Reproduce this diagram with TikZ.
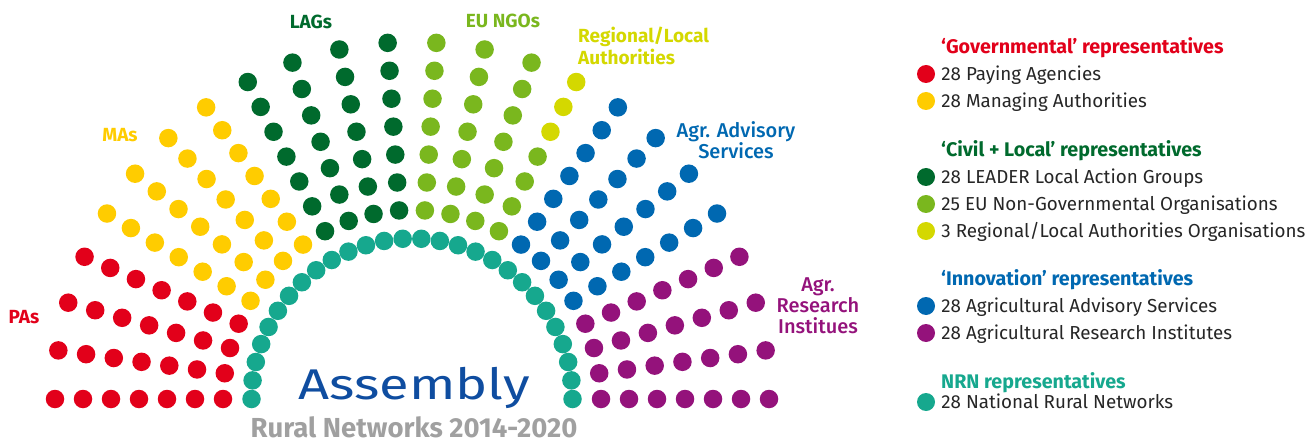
\documentclass[tikz,border=0pt]{standalone}
\usepackage{fontspec}
\setmainfont{Fira Sans}
\IfFontExistsTF{Fira Sans Medium}{\newfontfamily\medfont{Fira Sans Medium}}{\newcommand\medfont{\normalfont}}
\usetikzlibrary{positioning}
\definecolor{paRed}{RGB}{226,0,26}
\definecolor{maYellow}{RGB}{255,204,0}
\definecolor{lagGreen}{RGB}{0,106,45}
\definecolor{ngoGreen}{RGB}{122,183,30}
\definecolor{regYellow}{RGB}{212,216,0}
\definecolor{aasBlue}{RGB}{0,104,177}
\definecolor{ariPurple}{RGB}{148,18,123}
\definecolor{nrnTeal}{RGB}{22,168,142}
\definecolor{titleBlue}{RGB}{15,77,160}
\definecolor{subGrey}{RGB}{160,160,160}

\begin{document}
\begin{tikzpicture}[
    x=1pt, y=1pt,
    seat/.style={circle, inner sep=0pt, minimum size=18.5pt},
    key/.style={circle, inner sep=0pt, minimum size=18pt},
    grplabel/.style={font=\fontsize{19}{22}\selectfont\bfseries, inner sep=0pt, align=center},
    sidelabel/.style={font=\fontsize{20}{21}\selectfont\medfont, inner sep=0pt, align=center},
    legtext/.style={font=\fontsize{18.8}{22}\selectfont, inner sep=0pt, anchor=west, text=black!85, text height=13pt, text depth=0pt},
    leghead/.style={font=\fontsize{19.7}{22}\selectfont\bfseries, inner sep=0pt, anchor=west, text height=13pt, text depth=0pt}
]
\useasboundingbox (0,0) rectangle (1314,445);

% Outer seats: 24 spokes of 7, four spokes per group
\begin{scope}[shift={(412,46)}]
\foreach \col [count=\g from 0] in {paRed,maYellow,lagGreen,ngoGreen,aasBlue,ariPurple} {
  \foreach \j in {0,...,3} {
    \pgfmathsetmacro\ang{180-(4*\g+\j)*180/23}
    \foreach \i in {0,...,6} {
      \pgfmathtruncatemacro\reg{(\g==3)&&(\j==3)&&(\i>3)}
      \ifnum\reg=1 \def\seatcol{regYellow}\else\edef\seatcol{\col}\fi
      \node[seat, fill=\seatcol] (s-\g-\j-\i) at (\ang:189+28*\i) {};
    }
  }
}

% NRN ring
\foreach \k in {0,...,27}
  \node[seat, fill=nrnTeal] (nrn-\k) at (180-\k*180/27:160.5) {};
\end{scope}

% Group labels
\node[grplabel, text=paRed] (pas) at (24,128) {PAs};
\node[grplabel, text=maYellow] (mas) at (120,310) {MAs};
\node[grplabel, text=lagGreen] (lags) at (311,423) {LAGs};
\node[grplabel, text=ngoGreen] (ngos) at (503,424) {EU NGOs};
\node[grplabel, text=regYellow, anchor=west, align=left] (regs) at (578,399) {Regional/Local\\Authorities};
\node[sidelabel, text=aasBlue] (aas) at (736,305) {Agr. Advisory\\Services};
\node[sidelabel, text=ariPurple] (ari) at (818,139) {Agr.\\Research\\Institues};

% Title
\node[font=\fontsize{43}{46}\selectfont, text=titleBlue, anchor=base, inner sep=0pt] (title) at (414,46) {\scalebox{1.26}[1]{Assembly}};
\node[font=\fontsize{27.5}{30}\selectfont\bfseries, text=subGrey, anchor=base, inner sep=0pt] (subtitle) at (414,8) {Rural Networks 2014-2020};

% Legend
\node[leghead, text=paRed] (gov) at (941,398) {‘Governmental’ representatives};
\node[leghead, text=lagGreen] (civ) at (941,295) {‘Civil + Local’ representatives};
\node[leghead, text=aasBlue] (inno) at (941,166) {‘Innovation’ representatives};
\node[leghead, text=nrnTeal] (nrn) at (941,63) {NRN representatives};

\foreach \col/\y/\txt [count=\n] in {paRed/371/{28 Paying Agencies}, maYellow/344/{28 Managing Authorities},
    lagGreen/268/{28 LEADER Local Action Groups}, ngoGreen/241/{25 EU Non-Governmental Organisations},
    regYellow/214/{3 Regional/Local Authorities Organisations}, aasBlue/139/{28 Agricultural Advisory Services},
    ariPurple/112/{28 Agricultural Research Institutes}, nrnTeal/43/{28 National Rural Networks}} {
  \node[key, fill=\col] (key-\n) at (926,\y) {};
  \node[legtext, right=6pt of key-\n] (item-\n) {\txt};
}

\end{tikzpicture}
\end{document}
